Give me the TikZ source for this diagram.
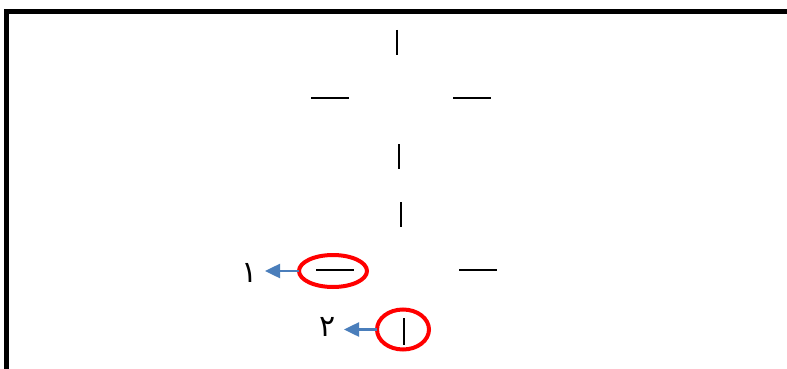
\documentclass[tikz,border=0pt]{standalone}
\usepackage{fontspec}
\newfontfamily\arabicfont[Script=Arabic]{DejaVu Sans}
\TeXXeTstate=1
\usetikzlibrary{arrows.meta}
\definecolor{arrowblue}{RGB}{74,126,187}
\tikzset{
  tick/.style={line width=2pt, black},
  frame/.style={line width=5pt, black},
  ring/.style={draw=red, line width=4pt},
  pointer/.style={draw=arrowblue, line width=2.5pt, -{Triangle[length=15pt,width=14pt]}},
  digit/.style={font=\arabicfont\fontsize{30}{34}\selectfont, inner sep=0pt}
}
\begin{document}
\begin{tikzpicture}[x=1pt,y=-1pt]
\useasboundingbox (0,0) rectangle (787,369);
\draw[frame] (6.5,372) -- (6.5,11.5) -- (790,11.5);
% ticks
\draw[tick] (397,30) -- (397,55);
\draw[tick] (311,98) -- (349,98);
\draw[tick] (453,98) -- (491,98);
\draw[tick] (399,144) -- (399,169);
\draw[tick] (401,202) -- (401,227);
\draw[tick] (316,270) -- (354,270);
\draw[tick] (459,270) -- (497,270);
\draw[tick] (404,318) -- (404,345);
% rings
\draw[ring] (333,271) ellipse [x radius=34, y radius=16];
\draw[ring] (403,329.5) ellipse [x radius=26, y radius=20];
\coordinate (r1) at (299,271);
\coordinate (r2) at (377,329.5);
\node[digit] (d1) at (250,273) {\beginR ١\endR};
\node[digit] (d2) at (328,327) {\beginR ٢\endR};
\draw[pointer] (r1) -- (265,271);
\draw[pointer] (r2) -- (344,329.5);
\end{tikzpicture}
\end{document}
